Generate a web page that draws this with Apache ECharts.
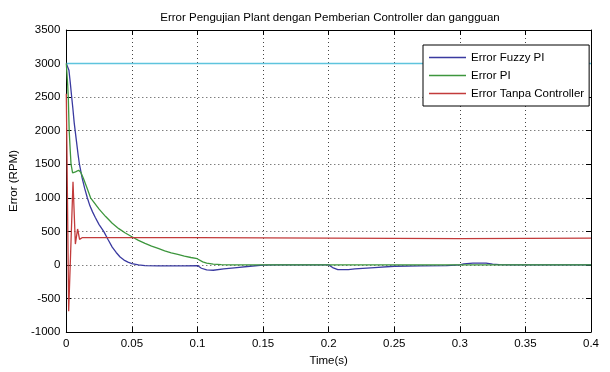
<!DOCTYPE html>
<html>
<head>
<meta charset="utf-8">
<script src="https://cdn.jsdelivr.net/npm/echarts@6/dist/echarts.min.js"></script>
<style>html,body{margin:0;padding:0;background:#fff;overflow:hidden;}#c{width:610px;height:372px;}</style>
</head>
<body>
<div id="c"></div>
<script>
// ---- data ----
var titleText = 'Error Pengujian Plant dengan Pemberian Controller dan gangguan';
var xName = 'Time(s)';
var yName = 'Error (RPM)';
var legendNames = ['Error Fuzzy PI', 'Error PI', 'Error Tanpa Controller'];

var fuzzyT = [0, 0.001, 0.002, 0.003, 0.004, 0.005, 0.006, 0.007, 0.008, 0.009, 0.010, 0.012, 0.014, 0.016, 0.018, 0.020, 0.022, 0.025, 0.0285, 0.032, 0.035, 0.038, 0.041, 0.044, 0.047, 0.050, 0.055, 0.060, 0.070, 0.080, 0.090, 0.100, 0.103, 0.107, 0.112, 0.120, 0.130, 0.140, 0.150, 0.160, 0.200, 0.203, 0.207, 0.215, 0.220, 0.235, 0.250, 0.270, 0.290, 0.300, 0.303, 0.310, 0.320, 0.325, 0.330, 0.340, 0.400];
var fuzzyV = [3000, 3020, 2900, 2720, 2520, 2330, 2120, 1960, 1800, 1640, 1500, 1300, 1140, 1000, 880, 790, 710, 600, 500, 370, 265, 185, 117, 72, 42, 20, 0, -10, -15, -15, -15, -10, -50, -75, -80, -60, -40, -20, -5, 0, 0, -40, -70, -70, -60, -40, -20, -15, -10, 0, 15, 25, 25, 10, 5, 0, 0];

var piT = [0, 0.001, 0.0015, 0.0022, 0.003, 0.0036, 0.0048, 0.0056, 0.007, 0.0094, 0.011, 0.013, 0.0155, 0.0185, 0.025, 0.030, 0.035, 0.040, 0.045, 0.050, 0.055, 0.060, 0.065, 0.070, 0.075, 0.080, 0.085, 0.090, 0.095, 0.0998, 0.101, 0.104, 0.107, 0.112, 0.118, 0.125, 0.400];
var piV = [3000, 2700, 2500, 2000, 1700, 1500, 1370, 1360, 1385, 1410, 1380, 1290, 1160, 1000, 830, 720, 620, 540, 475, 420, 365, 320, 280, 245, 210, 180, 155, 130, 110, 92, 70, 45, 25, 10, 3, 0, 0];

var noCtrlT = [0, 0.0018, 0.0051, 0.0069, 0.0086, 0.0101, 0.012, 0.100, 0.101, 0.200, 0.201, 0.300, 0.301, 0.400];
var noCtrlV = [2550, -690, 1240, 310, 535, 380, 405, 405, 400, 400, 392, 392, 400, 400];

var refT = [0, 0.4];
var refV = [3000, 3000];

var xTicks = { min: 0, max: 0.4, interval: 0.05 };
var yTicks = { min: -1000, max: 3500, interval: 500 };

function zip(t, v) { return t.map(function (x, i) { return [x, v[i]]; }); }

var font = 'Liberation Sans, Arial, sans-serif';
var fs = 11.5;
var chart = echarts.init(document.getElementById('c'), null, { renderer: 'canvas', width: 610, height: 372 });

var gridDot = { show: true, lineStyle: { color: '#444', type: [1, 3], width: 1 } };
function axisCommon(extra) {
  return Object.assign({
    axisLine: { show: true, onZero: false, lineStyle: { color: '#000', width: 1 } },
    axisTick: { show: true, inside: true, length: 5, lineStyle: { color: '#000' } },
    axisLabel: { color: '#000', fontFamily: font, fontSize: fs }
  }, extra);
}
function plain(v) { return String(Math.round(v * 1000) / 1000); }

chart.setOption({
  animation: false,
  backgroundColor: '#fff',
  title: {
    text: titleText, left: 325, top: 7, textAlign: 'center',
    textStyle: { fontFamily: font, fontSize: fs, fontWeight: 'normal', color: '#000' }
  },
  grid: { left: 66, right: 19, top: 30, bottom: 36, containLabel: false },
  legend: {
    data: legendNames, orient: 'vertical', left: 423, top: 45,
    backgroundColor: '#fff', borderColor: '#000', borderWidth: 1,
    icon: 'rect', padding: [6, 5, 6, 6], itemGap: 5, itemWidth: 37, itemHeight: 1.5,
    textStyle: { fontFamily: font, fontSize: fs, color: '#000', lineHeight: 13 }
  },
  xAxis: [
    axisCommon({ type: 'value', min: xTicks.min, max: xTicks.max, interval: xTicks.interval,
      name: xName, nameLocation: 'middle', nameGap: 23,
      nameTextStyle: { fontFamily: font, fontSize: fs, color: '#000' },
      axisLabel: { color: '#000', fontFamily: font, fontSize: fs, margin: 6, formatter: plain },
      splitLine: gridDot }),
    axisCommon({ type: 'value', position: 'top', min: xTicks.min, max: xTicks.max, interval: xTicks.interval,
      axisLabel: { show: false }, splitLine: { show: false } })
  ],
  yAxis: [
    axisCommon({ type: 'value', min: yTicks.min, max: yTicks.max, interval: yTicks.interval,
      name: yName, nameLocation: 'middle', nameGap: 31,
      nameTextStyle: { fontFamily: font, fontSize: fs, color: '#000' },
      axisLabel: { color: '#000', fontFamily: font, fontSize: fs, margin: 6, formatter: plain },
      splitLine: gridDot }),
    axisCommon({ type: 'value', position: 'right', min: yTicks.min, max: yTicks.max, interval: yTicks.interval,
      axisLabel: { show: false }, splitLine: { show: false } })
  ],
  series: [
    { name: 'ref', type: 'line', data: zip(refT, refV), symbol: 'none',
      lineStyle: { color: '#5ec4dd', width: 1.5 }, itemStyle: { color: '#5ec4dd' } },
    { name: legendNames[0], type: 'line', data: zip(fuzzyT, fuzzyV), symbol: 'none',
      lineStyle: { color: '#3a3aa0', width: 1.3 }, itemStyle: { color: '#3a3aa0' } },
    { name: legendNames[1], type: 'line', data: zip(piT, piV), symbol: 'none',
      lineStyle: { color: '#3d963d', width: 1.3 }, itemStyle: { color: '#3d963d' } },
    { name: legendNames[2], type: 'line', data: zip(noCtrlT, noCtrlV), symbol: 'none',
      lineStyle: { color: '#c23b3b', width: 1.3 }, itemStyle: { color: '#c23b3b' } }
  ]
});
</script>
</body>
</html>
